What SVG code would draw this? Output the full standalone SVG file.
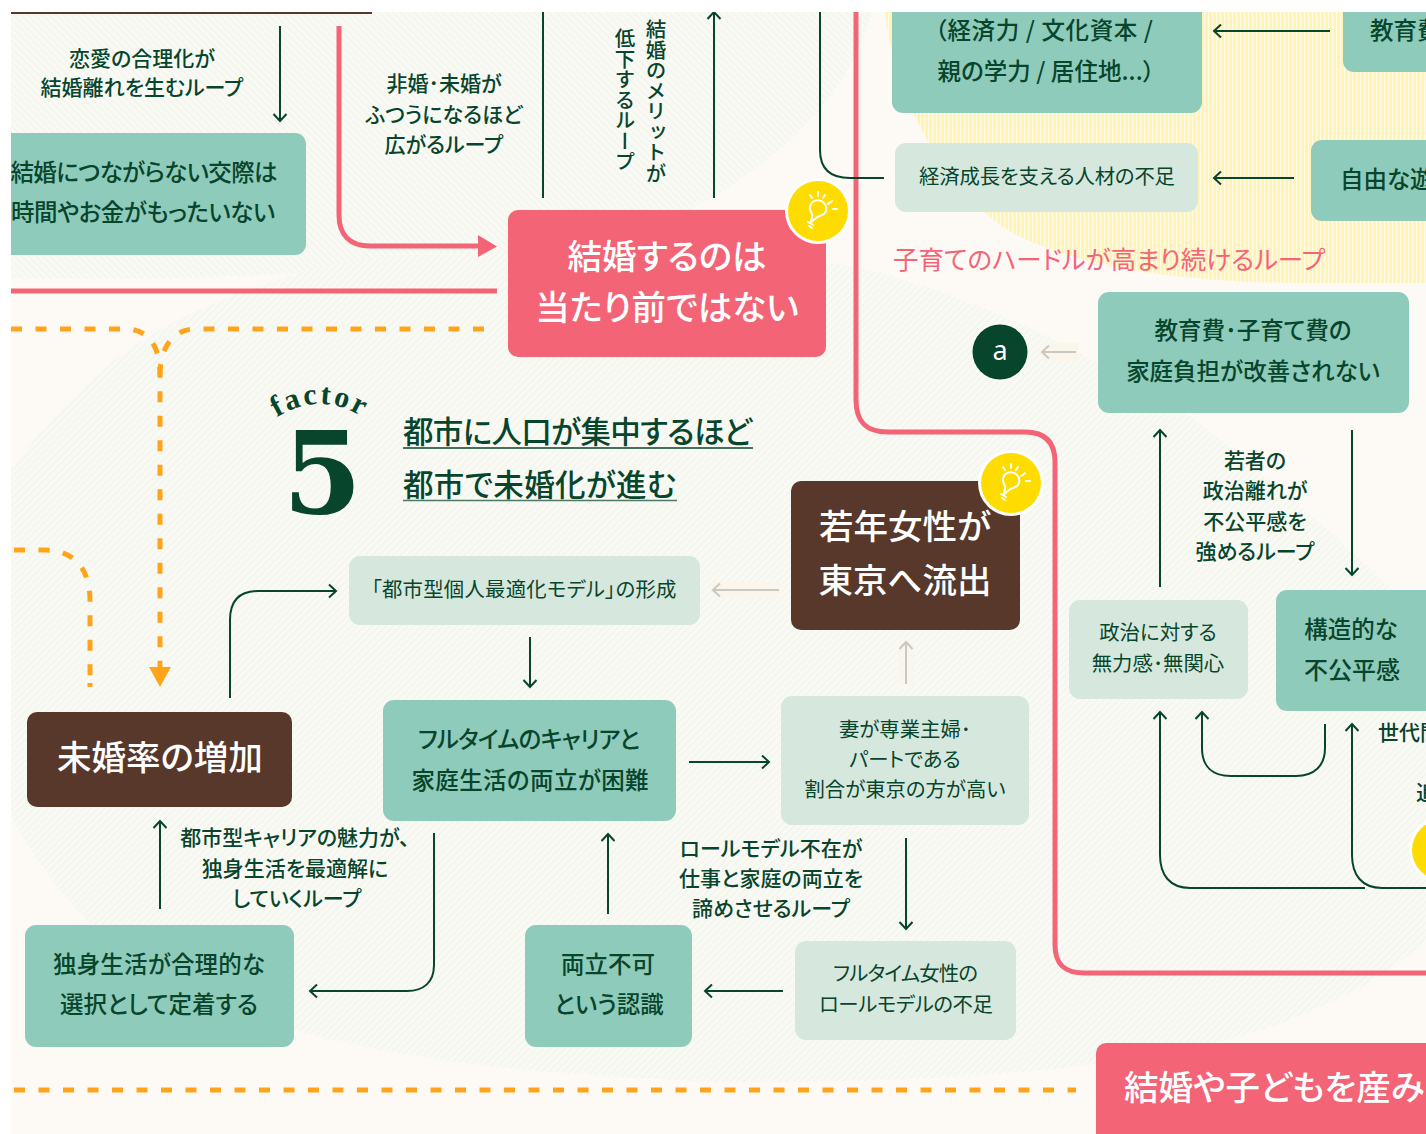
<svg xmlns="http://www.w3.org/2000/svg" width="1426" height="1134" viewBox="0 0 1426 1134">
<style>
text{font-family:"Noto Sans CJK JP","Noto Sans",sans-serif;font-feature-settings:"palt";text-anchor:middle;dominant-baseline:central;fill:#07452c}
.g{fill:#8fcbbb}.l{fill:#d6e8de}.p{fill:#f46477}.b{fill:#58382a}
.t22{font-size:23.500px;font-weight:500}
.t20{font-size:20.400px}
.lb{font-size:21px;font-weight:500}
.h{font-size:34.500px;font-weight:500;fill:#fff}
.hd{font-size:30.500px;font-weight:500}
.a{fill:none;stroke:#07452c;stroke-width:2}
.ar{marker-end:url(#m)}
.fa{fill:none;stroke:#c9c9c1;stroke-width:2;marker-end:url(#mf)}
.pk{fill:none;stroke:#f46477;stroke-width:5}
.o{fill:none;stroke:#ffa31a;stroke-width:5;stroke-dasharray:11 13.5}
.bg-patch{fill:#faf6ec}
</style>
<defs>
<clipPath id="c"><rect x="11" y="12" width="1415" height="1122"/></clipPath>
<pattern id="h1" width="5" height="5" patternUnits="userSpaceOnUse" patternTransform="rotate(45)"><rect width="5" height="5" fill="#fafaf5"/><rect width="5" height="1.5" fill="#f3f4ed"/></pattern>
<pattern id="h2" width="5" height="5" patternUnits="userSpaceOnUse" patternTransform="rotate(-45)"><rect width="5" height="5" fill="#fafaf5"/><rect width="5" height="1.5" fill="#f3f4ed"/></pattern>
<pattern id="y" width="4" height="4" patternUnits="userSpaceOnUse"><rect width="4" height="4" fill="#fff4b5"/><rect width="1.2" height="4" fill="#fffbe6"/></pattern>
<marker id="m" viewBox="-12 -8 14 16" refX="0" refY="0" markerWidth="14" markerHeight="16" markerUnits="userSpaceOnUse" orient="auto"><path d="M-7,-6.5L0,0L-7,6.5" fill="none" stroke="#07452c" stroke-width="2"/></marker>
<marker id="mf" viewBox="-12 -8 14 16" refX="0" refY="0" markerWidth="14" markerHeight="16" markerUnits="userSpaceOnUse" orient="auto"><path d="M-7,-6.5L0,0L-7,6.5" fill="none" stroke="#c9c9c1" stroke-width="2"/></marker>
<g id="bulb" fill="none" stroke="#fff" stroke-width="2" stroke-linecap="round">
<path d="M-7,11C-7,7 -5,6 -6,3C-8,-1 -9,-3 -7,-7C-5,-11 1,-12 5,-9C9,-6 9,-1 7,2C5,5 0,4 -3,8Z"/>
<path d="M-10,11L-5,14M-9,15L-6,17M-8,-16L-6,-13M0,-19V-15M7,-16L5,-13M14,-10L10,-7M19,-2H15"/>
</g>
</defs>
<rect width="1426" height="1134" fill="#fff"/>
<g clip-path="url(#c)">
<rect x="11" y="12" width="1415" height="1122" fill="#fdfaf5"/>
<path d="M11,12H872C852,90 790,150 713,197C640,240 560,240 497,252C400,270 200,283 11,278Z" fill="url(#h1)"/>
<path d="M885,12C895,90 930,170 1000,225C1060,265 1180,283 1300,283H1426V12Z" fill="url(#y)"/>
<path d="M11,470C40,430 60,410 91,380C150,325 227,293 318,268C450,240 700,245 858,267C950,290 1030,325 1099,363C1130,378 1160,395 1186,413C1260,470 1330,530 1390,587L1426,625V940C1390,975 1350,995 1304,1014C1200,1060 1000,1085 713,1082C560,1075 420,1065 295,1030C200,1000 120,960 86,920C50,880 25,845 11,815Z" fill="url(#h2)"/>

<g id="connectors">
<path class="o" d="M11,329H125C148,329 160,345 160,375V667"/>
<path class="o" d="M484,329H195C175,329 160,345 160,375"/>
<path d="M149,667H171L160,687Z" fill="#ffa31a"/>
<path class="o" d="M14,550H45C75,550 90,570 90,600V677"/>
<path class="o" d="M90,683V687"/>
<path class="o" d="M14,1090H1076"/>
<path class="pk" d="M339,26V215C339,235 350,246 370,246H480"/>
<path d="M478,235L497,246.500L478,257Z" fill="#f46477"/>
<path d="M11,291H497" class="pk"/>
<path class="pk" d="M856,12V400C856,422 866,432 888,432H1025C1045,432 1055,442 1055,462V945C1055,965 1065,973 1085,973H1426"/>
<path class="a ar" d="M280,26V121"/>
<path class="a" d="M543,12V198"/>
<path class="a ar" d="M714,198V12"/>
<path class="a" d="M820,12V150C820,168 830,178 850,178H884"/>
<path class="a ar" d="M1330,31H1214"/>
<path class="a ar" d="M1294,178H1214"/>
<rect class="bg-patch" x="1042" y="343" width="36" height="18"/>
<path class="fa" d="M1076,352H1042"/>
<path class="a ar" d="M1160,587V430"/>
<path class="a ar" d="M1352,430V575"/>
<path class="a ar" d="M1365,888H1190C1170,888 1160,875 1160,855V712"/>
<path class="a ar" d="M1426,888H1382C1362,888 1352,875 1352,855V724"/>
<path class="a ar" d="M1325,724V748C1325,766 1314,776 1296,776H1231C1212,776 1202,766 1202,748V712"/>
<path class="a ar" d="M230,698V620C230,600 240,591 258,591H336"/>
<path class="a ar" d="M530,637V687"/>
<path class="a ar" d="M689,762H769"/>
<rect class="bg-patch" x="712" y="582" width="68" height="16"/>
<path class="fa" d="M779,590H713"/>
<rect class="bg-patch" x="898" y="642" width="16" height="43"/>
<path class="fa" d="M906,684V642"/>
<path class="a ar" d="M906,838V929"/>
<path class="a ar" d="M783,991H705"/>
<path class="a ar" d="M608,914V834"/>
<path class="a ar" d="M434,833V965C434,982 424,991 407,991H310"/>
<path class="a ar" d="M160,909V821"/>
<path d="M11,13H372" stroke="#58382a" stroke-width="2" fill="none"/>
</g>

<g id="n-kousai"><rect class="g" x="-20" y="133" width="326" height="122" rx="11"/><text class="t22" x="144" y="171" textLength="267">結婚につながらない交際は</text><text class="t22" x="143" y="211" textLength="264">時間やお金がもったいない</text></g>
<g id="n-atarimae"><rect class="p" x="508" y="210" width="318" height="147" rx="10"/><text class="h" x="667" y="254">結婚するのは</text><text class="h" x="667" y="305">当たり前ではない</text></g>
<g id="n-shihon"><rect class="g" x="892" y="-20" width="310" height="133" rx="11"/><text class="t22" x="1044" y="29" textLength="218">（経済力 / 文化資本 /</text><text class="t22" x="1046" y="70" textLength="217">親の学力 / 居住地...）</text></g>
<g id="n-kyouikuhi-top"><rect class="g" x="1343" y="-20" width="120" height="92" rx="11"/><text class="t22" style="text-anchor:start" x="1370" y="29">教育費</text></g>
<g id="n-jinzai"><rect class="l" x="895" y="143" width="303" height="69" rx="11"/><text class="t20" x="1047" y="175" textLength="256">経済成長を支える人材の不足</text></g>
<g id="n-asobi"><rect class="g" x="1311" y="140" width="150" height="81" rx="11"/><text class="t22" style="text-anchor:start" x="1340" y="178">自由な遊</text></g>
<text id="l-hurdle" x="1109" y="257" style="font-size:25.500px;fill:#f46477">子育てのハードルが高まり続けるループ</text>
<g id="n-kakei"><rect class="g" x="1098" y="292" width="311" height="121" rx="11"/><text class="t22" x="1253" y="329">教育費･子育て費の</text><text class="t22" x="1253" y="370">家庭負担が改善されない</text></g>
<g id="n-a"><circle cx="1000" cy="352" r="27.500" fill="#07452c"/><text x="1000" y="349" style="font-size:27px;fill:#fff;font-family:'Noto Sans',sans-serif">a</text></g>
<g id="n-seiji"><rect class="l" x="1069" y="600" width="179" height="99" rx="11"/><text class="t20" x="1158" y="631">政治に対する</text><text class="t20" x="1158" y="662">無力感･無関心</text></g>
<g id="n-kouzou"><rect class="g" x="1276" y="590" width="170" height="121" rx="11"/><text class="t22" x="1351" y="628">構造的な</text><text class="t22" style="font-size:24px" x="1352" y="668">不公平感</text></g>
<g id="n-toshigata"><rect class="l" x="349" y="556" width="351" height="69" rx="11"/><text class="t20" x="524" y="588" textLength="305">「都市型個人最適化モデル」の形成</text></g>
<g id="n-mikon"><rect class="b" x="27" y="712" width="265" height="95" rx="10"/><text class="h" x="160" y="755">未婚率の増加</text></g>
<g id="n-fulltime"><rect class="g" x="383" y="700" width="293" height="121" rx="11"/><text class="t22" x="529" y="738" textLength="222">フルタイムのキャリアと</text><text class="t22" x="530" y="779" textLength="237">家庭生活の両立が困難</text></g>
<g id="n-tsuma"><rect class="l" x="781" y="696" width="248" height="129" rx="11"/><text class="t20" x="905" y="728">妻が専業主婦･</text><text class="t20" x="905" y="758">パートである</text><text class="t20" x="905" y="788" textLength="201">割合が東京の方が高い</text></g>
<g id="n-wakate"><rect class="b" x="791" y="481" width="229" height="149" rx="10"/><text class="h" x="905" y="524">若年女性が</text><text class="h" x="905" y="578">東京へ流出</text></g>
<g id="n-rolemodel"><rect class="l" x="795" y="941" width="221" height="99" rx="11"/><text class="t20" x="905.500" y="972" textLength="145">フルタイム女性の</text><text class="t20" x="906" y="1003" textLength="174">ロールモデルの不足</text></g>
<g id="n-ninshiki"><rect class="g" x="525" y="925" width="167" height="122" rx="11"/><text class="t22" x="608" y="963">両立不可</text><text class="t22" x="609" y="1003">という認識</text></g>
<g id="n-dokushin"><rect class="g" x="25" y="925" width="269" height="122" rx="11"/><text class="t22" x="159" y="963" textLength="212">独身生活が合理的な</text><text class="t22" x="159" y="1003">選択として定着する</text></g>
<g id="n-bottom"><rect class="p" x="1096" y="1043" width="400" height="120" rx="10"/><text class="h" style="text-anchor:start" x="1124" y="1085">結婚や子どもを産み</text></g>

<g id="labels">
<text class="lb" x="142" y="57">恋愛の合理化が</text><text class="lb" x="142" y="86">結婚離れを生むループ</text>
<text class="lb" x="444" y="82">非婚･未婚が</text><text class="lb" x="444" y="113">ふつうになるほど</text><text class="lb" x="444" y="143">広がるループ</text>
<text class="lb" style="writing-mode:vertical-rl;font-feature-settings:normal;font-size:20.500px" x="656" y="101">結婚のメリットが</text>
<text class="lb" style="writing-mode:vertical-rl;font-feature-settings:normal;font-size:20.500px" x="625" y="100">低下するループ</text>
<text class="lb" x="1255" y="459">若者の</text><text class="lb" x="1255" y="489">政治離れが</text><text class="lb" x="1255" y="520">不公平感を</text><text class="lb" x="1255" y="550">強めるループ</text>
<text class="lb" style="text-anchor:start" x="1378" y="731">世代間</text><text class="lb" style="text-anchor:start" x="1416" y="791">追</text>
<text class="lb" x="771" y="847">ロールモデル不在が</text><text class="lb" x="771" y="877">仕事と家庭の両立を</text><text class="lb" x="771" y="907">諦めさせるループ</text>
<text class="lb" x="295" y="836">都市型キャリアの魅力が、</text><text class="lb" x="295" y="867">独身生活を最適解に</text><text class="lb" x="297" y="897">していくループ</text>
</g>

<g id="title">
<path id="fc" d="M270,422Q320,386 370,422" fill="none"/>
<text style="font-family:'Liberation Serif',serif;font-weight:700;font-size:30px;letter-spacing:2.5px;dominant-baseline:auto"><textPath href="#fc" startOffset="50%">factor</textPath></text>
<text x="322.500" y="513" style="font-family:'DejaVu Serif',serif;font-weight:700;font-size:114px;dominant-baseline:auto">5</text>
<text class="hd" x="577.500" y="430" textLength="349">都市に人口が集中するほど</text>
<path d="M403,448H753" stroke="#07452c" stroke-width="1.500"/>
<text class="hd" x="539.500" y="483" textLength="273">都市で未婚化が進む</text>
<path d="M403,500.500H677" stroke="#07452c" stroke-width="1.500" opacity=".7"/>
</g>

<g id="i1"><circle cx="818" cy="211" r="33" fill="#fff"/><circle cx="818" cy="211" r="30" fill="#ffdc00"/><use href="#bulb" x="818" y="211"/></g>
<g id="i2"><circle cx="1011" cy="483" r="33" fill="#fff"/><circle cx="1011" cy="483" r="30" fill="#ffdc00"/><use href="#bulb" x="1011" y="483"/></g>
<g id="i3"><circle cx="1442" cy="850" r="33" fill="#fff"/><circle cx="1442" cy="850" r="30" fill="#ffdc00"/></g>
</g>
</svg>
